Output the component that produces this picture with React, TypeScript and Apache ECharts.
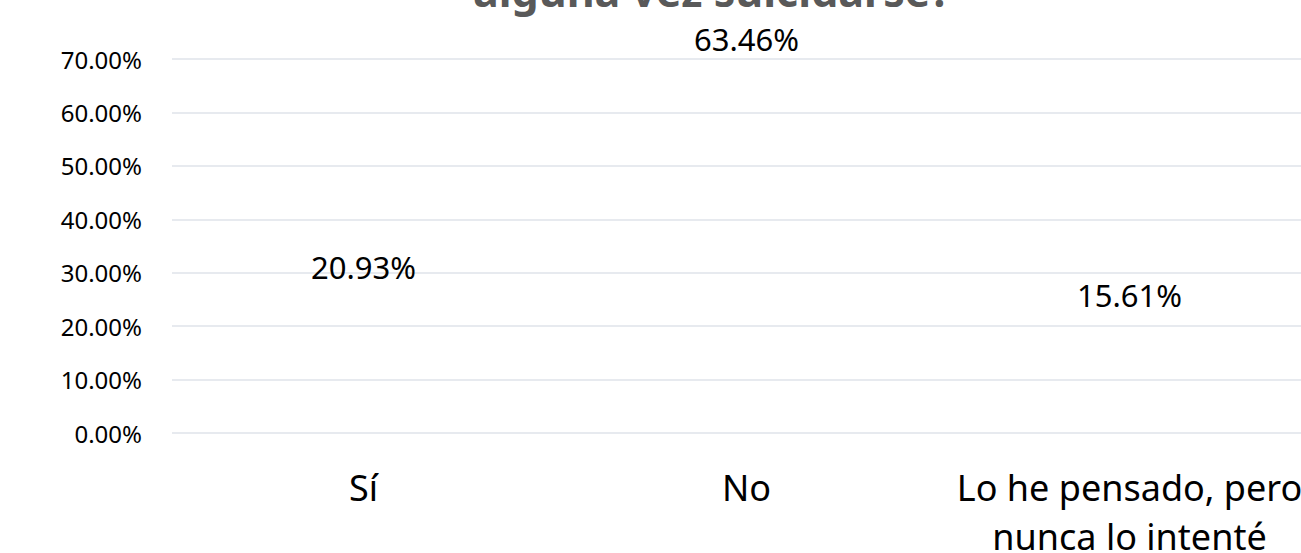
import React, { useEffect, useRef } from "react";
import * as echarts from "echarts";

const titleText = "alguna vez suicidarse?";
const categories = ["Sí", "No", "Lo he pensado, pero\nnunca lo intenté"];
const values = [20.93, 63.46, 15.61];
const yMin = 0;
const yMax = 70;
const yInterval = 10;

export default function App() {
  const ref = useRef<HTMLDivElement>(null);
  useEffect(() => {
    if (!ref.current) return;
    const chart = echarts.init(ref.current, null, { renderer: "svg" });
    chart.setOption({
      animation: false,
      backgroundColor: "#ffffff",
      textStyle: { fontFamily: "Noto Sans" },
      graphic: [
        {
          type: "text",
          x: 712,
          y: 12,
          style: {
            text: titleText,
            fontFamily: "Noto Sans",
            fontWeight: "bold",
            fontSize: 43,
            fill: "#595959",
            align: "center",
            verticalAlign: "bottom",
          },
        },
      ],
      grid: {
        left: 172,
        right: -20,
        top: 59,
        bottom: 120,
        containLabel: false,
        outerBoundsMode: "none",
      },
      xAxis: {
        type: "category",
        data: categories,
        axisLine: { show: false },
        axisTick: { show: false },
        axisLabel: {
          interval: 0,
          margin: 30,
          fontSize: 36,
          lineHeight: 49,
          color: "#000000",
          fontFamily: "Noto Sans",
          hideOverlap: false,
        },
      },
      yAxis: {
        type: "value",
        min: yMin,
        max: yMax,
        interval: yInterval,
        axisLine: { show: false },
        axisTick: { show: false },
        axisLabel: {
          margin: 30,
          fontSize: 24,
          color: "#000000",
          fontFamily: "Noto Sans",
          formatter: (v: number) => v.toFixed(2) + "%",
        },
        splitLine: { lineStyle: { color: "#dfe3ea", width: 1.5 } },
      },
      series: [
        {
          type: "bar",
          data: values,
          barWidth: "50%",
          itemStyle: { color: "rgba(0,0,0,0)" },
          label: {
            show: true,
            position: "top",
            distance: 39,
            fontSize: 31,
            color: "#000000",
            fontFamily: "Noto Sans",
            formatter: (p: any) => Number(p.value).toFixed(2) + "%",
          },
        },
      ],
    });
    return () => chart.dispose();
  }, []);
  return (
    <div
      ref={ref}
      style={{ position: "fixed", left: 0, top: 0, width: 1301, height: 553, overflow: "hidden" }}
    />
  );
}
